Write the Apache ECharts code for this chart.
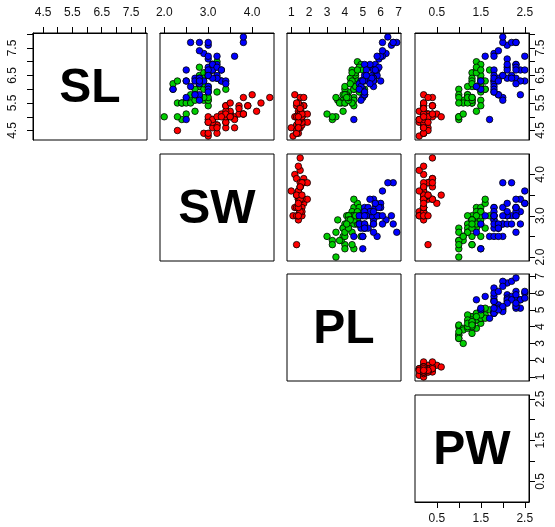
<!DOCTYPE html>
<html>
<head>
<meta charset="utf-8">
<script src="https://cdn.jsdelivr.net/npm/echarts@6/dist/echarts.min.js"></script>
<style>html,body{margin:0;padding:0;background:#fff;}#chart{width:555px;height:527px;}</style>
</head>
<body>
<div id="chart"></div>
<script>
const SL = [5.1,4.9,4.7,4.6,5.0,5.4,4.6,5.0,4.4,4.9,5.4,4.8,4.8,4.3,5.8,5.7,5.4,5.1,5.7,5.1,5.4,5.1,4.6,5.1,4.8,5.0,5.0,5.2,5.2,4.7,4.8,5.4,5.2,5.5,4.9,5.0,5.5,4.9,4.4,5.1,5.0,4.5,4.4,5.0,5.1,4.8,5.1,4.6,5.3,5.0,
7.0,6.4,6.9,5.5,6.5,5.7,6.3,4.9,6.6,5.2,5.0,5.9,6.0,6.1,5.6,6.7,5.6,5.8,6.2,5.6,5.9,6.1,6.3,6.1,6.4,6.6,6.8,6.7,6.0,5.7,5.5,5.5,5.8,6.0,5.4,6.0,6.7,6.3,5.6,5.5,5.5,6.1,5.8,5.0,5.6,5.7,5.7,6.2,5.1,5.7,
6.3,5.8,7.1,6.3,6.5,7.6,4.9,7.3,6.7,7.2,6.5,6.4,6.8,5.7,5.8,6.4,6.5,7.7,7.7,6.0,6.9,5.6,7.7,6.3,6.7,7.2,6.2,6.1,6.4,7.2,7.4,7.9,6.4,6.3,6.1,7.7,6.3,6.4,6.0,6.9,6.7,6.9,5.8,6.8,6.7,6.7,6.3,6.5,6.2,5.9];
const SW = [3.5,3.0,3.2,3.1,3.6,3.9,3.4,3.4,2.9,3.1,3.7,3.4,3.0,3.0,4.0,4.4,3.9,3.5,3.8,3.8,3.4,3.7,3.6,3.3,3.4,3.0,3.4,3.5,3.4,3.2,3.1,3.4,4.1,4.2,3.1,3.2,3.5,3.6,3.0,3.4,3.5,2.3,3.2,3.5,3.8,3.0,3.8,3.2,3.7,3.3,
3.2,3.2,3.1,2.3,2.8,2.8,3.3,2.4,2.9,2.7,2.0,3.0,2.2,2.9,2.9,3.1,3.0,2.7,2.2,2.5,3.2,2.8,2.5,2.8,2.9,3.0,2.8,3.0,2.9,2.6,2.4,2.4,2.7,2.7,3.0,3.4,3.1,2.3,3.0,2.5,2.6,3.0,2.6,2.3,2.7,3.0,2.9,2.9,2.5,2.8,
3.3,2.7,3.0,2.9,3.0,3.0,2.5,2.9,2.5,3.6,3.2,2.7,3.0,2.5,2.8,3.2,3.0,3.8,2.6,2.2,3.2,2.8,2.8,2.7,3.3,3.2,2.8,3.0,2.8,3.0,2.8,3.8,2.8,2.8,2.6,3.0,3.4,3.1,3.0,3.1,3.1,3.1,2.7,3.2,3.3,3.0,2.5,3.0,3.4,3.0];
const PL = [1.4,1.4,1.3,1.5,1.4,1.7,1.4,1.5,1.4,1.5,1.5,1.6,1.4,1.1,1.2,1.5,1.3,1.4,1.7,1.5,1.7,1.5,1.0,1.7,1.9,1.6,1.6,1.5,1.4,1.6,1.6,1.5,1.5,1.4,1.5,1.2,1.3,1.4,1.3,1.5,1.3,1.3,1.3,1.6,1.9,1.4,1.6,1.4,1.5,1.4,
4.7,4.5,4.9,4.0,4.6,4.5,4.7,3.3,4.6,3.9,3.5,4.2,4.0,4.7,3.6,4.4,4.5,4.1,4.5,3.9,4.8,4.0,4.9,4.7,4.3,4.4,4.8,5.0,4.5,3.5,3.8,3.7,3.9,5.1,4.5,4.5,4.7,4.4,4.1,4.0,4.4,4.6,4.0,3.3,4.2,4.2,4.2,4.3,3.0,4.1,
6.0,5.1,5.9,5.6,5.8,6.6,4.5,6.3,5.8,6.1,5.1,5.3,5.5,5.0,5.1,5.3,5.5,6.7,6.9,5.0,5.7,4.9,6.7,4.9,5.7,6.0,4.8,4.9,5.6,5.8,6.1,6.4,5.6,5.1,5.6,6.1,5.6,5.5,4.8,5.4,5.6,5.1,5.1,5.9,5.7,5.2,5.0,5.2,5.4,5.1];
const PW = [0.2,0.2,0.2,0.2,0.2,0.4,0.3,0.2,0.2,0.1,0.2,0.2,0.1,0.1,0.2,0.4,0.4,0.3,0.3,0.3,0.2,0.4,0.2,0.5,0.2,0.2,0.4,0.2,0.2,0.2,0.2,0.4,0.1,0.2,0.2,0.2,0.2,0.1,0.2,0.2,0.3,0.3,0.2,0.6,0.4,0.3,0.2,0.2,0.2,0.2,
1.4,1.5,1.5,1.3,1.5,1.3,1.6,1.0,1.3,1.4,1.0,1.5,1.0,1.4,1.3,1.4,1.5,1.0,1.5,1.1,1.8,1.3,1.5,1.2,1.3,1.4,1.4,1.7,1.5,1.0,1.1,1.0,1.2,1.6,1.5,1.6,1.5,1.3,1.3,1.3,1.2,1.4,1.2,1.0,1.3,1.2,1.3,1.3,1.1,1.3,
2.5,1.9,2.1,1.8,2.2,2.1,1.7,1.8,1.8,2.5,2.0,1.9,2.1,2.0,2.4,2.3,1.8,2.2,2.3,1.5,2.3,2.0,2.0,1.8,2.1,1.8,1.8,1.8,2.1,1.6,1.9,2.0,2.2,1.5,1.4,2.3,2.4,1.8,1.8,2.1,2.4,2.3,1.9,2.3,2.5,2.3,1.9,2.0,2.3,1.8];
const speciesNames = ['setosa', 'versicolor', 'virginica'];
const species = [].concat(Array(50).fill(0), Array(50).fill(1), Array(50).fill(2));
const varNames = ['SL', 'SW', 'PL', 'PW'];
const tickValues = [[4.5,5,5.5,6,6.5,7,7.5,8],[2,2.5,3,3.5,4],[1,2,3,4,5,6,7],[0.5,1,1.5,2,2.5]];
const tickLabels = [[4.5,5.5,6.5,7.5],[2,3,4],[1,2,3,4,5,6,7],[0.5,1.5,2.5]];

const vars = [SL, SW, PL, PW];
const decimals = [1, 1, 0, 1];
const colors = ['#FF0000', '#00CD00', '#0000FF'];
const ranges = vars.map(v => {
  const lo = Math.min(...v), hi = Math.max(...v), d = (hi - lo) * 0.04;
  return [lo - d, hi + d];
});

const colX = [33, 160.2, 287.4, 414.6];
const rowY = [33, 153.6, 274.2, 394.8];
const W = 114, H = 107;

const grids = [], xAxes = [], yAxes = [], series = [], graphics = [];
function axisCfg(v, show, pos, isY) {
  let margin;
  if (!isY) margin = pos === 'top' ? 14 : 11;
  else margin = pos === 'left' ? 14 : 6;
  const cfg = {
    type: 'value', min: ranges[v][0], max: ranges[v][1], position: pos,
    splitLine: { show: false }
  };
  if (show) {
    cfg.axisLine = { show: true, onZero: false, lineStyle: { color: '#000', width: 1 } };
    cfg.axisTick = { show: true, length: 6, inside: false, customValues: tickValues[v], lineStyle: { color: '#000', width: 1 } };
    cfg.axisLabel = { show: true, customValues: tickLabels[v], margin: margin, rotate: isY ? 90 : 0,
      fontFamily: 'Liberation Sans, Arial, sans-serif', fontSize: 12, color: '#111',
      formatter: val => Number(val).toFixed(decimals[v]) };
  } else {
    cfg.axisLine = { show: false, onZero: false };
    cfg.axisTick = { show: false };
    cfg.axisLabel = { show: false };
  }
  return cfg;
}
let g = 0;
for (let i = 0; i < 4; i++) {
  for (let j = i; j < 4; j++) {
    grids.push({ left: Math.round(colX[j]), top: Math.round(rowY[i]), width: W, height: H, show: true, borderColor: '#000', borderWidth: 1 });
    const xPos = (i === 3) ? 'bottom' : 'top';
    const xShow = (i === 0) || (i === 3 && j === 3);
    const yPos = (j === 0) ? 'left' : 'right';
    const yShow = (j === 0 && i === 0) || (j === 3);
    const xa = axisCfg(j, xShow, xPos, false); xa.gridIndex = g; xAxes.push(xa);
    const ya = axisCfg(i, yShow, yPos, true); ya.gridIndex = g; yAxes.push(ya);
    if (i === j) {
      graphics.push({ type: 'text', x: Math.round(colX[j]) + W / 2, y: Math.round(rowY[i]) + H / 2 + 2,
        style: { text: varNames[i], font: 'bold 48px "Liberation Sans", Arial, sans-serif', fill: '#000', align: 'center', verticalAlign: 'middle' } });
    } else {
      const data = SL.map((_, k) => [vars[j][k], vars[i][k], species[k]]);
      series.push({ type: 'scatter', xAxisIndex: g, yAxisIndex: g, data: data, symbol: 'circle', symbolSize: 6.5,
        itemStyle: { color: p => colors[p.data[2]], borderColor: '#000', borderWidth: 0.8, opacity: 1 },
        emphasis: { disabled: true } });
    }
    g++;
  }
}

const chart = echarts.init(document.getElementById('chart'));
chart.setOption({
  animation: false,
  backgroundColor: '#fff',
  grid: grids, xAxis: xAxes, yAxis: yAxes, series: series,
  graphic: graphics
});
</script>
</body>
</html>
